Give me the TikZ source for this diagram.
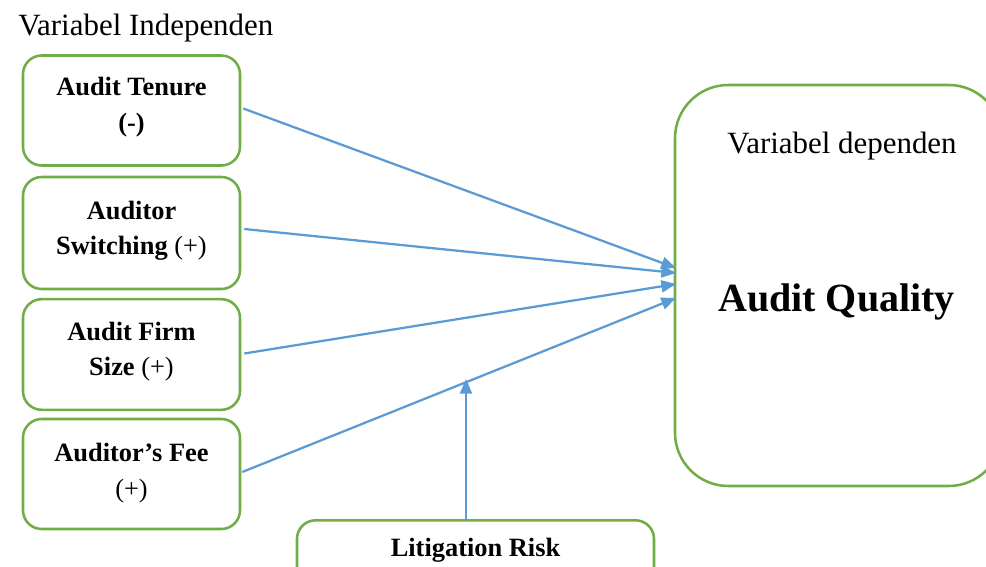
\documentclass[tikz,border=0pt]{standalone}
\usepackage{fontspec}
\setmainfont{Liberation Serif}
\usetikzlibrary{arrows.meta}
\definecolor{boxgreen}{HTML}{70AD47}
\definecolor{arrowblue}{HTML}{5B9BD5}
\tikzset{
  varbox/.style={draw=boxgreen, line width=1.9pt, rounded corners=14pt, fill=white, inner sep=0pt},
  conn/.style={draw=arrowblue, line width=1.7pt, -{Triangle[length=11pt,width=9pt]}},
  boxtext/.style={font=\fontsize{19.8}{26}\selectfont\bfseries, inner sep=0pt, anchor=base},
  plaintext/.style={font=\fontsize{23.2}{28}\selectfont, inner sep=0pt, anchor=base west},
}
\begin{document}
\begin{tikzpicture}[x=0.75pt,y=-0.75pt]
\useasboundingbox (0,0) rectangle (986,567);
% title
\node[plaintext] (title) at (18,36) {Variabel Independen};
% left boxes
\node[varbox, minimum width=162.75pt, minimum height=82.5pt] (b1) at (131.5,110.5) {};
\node[varbox, minimum width=162.75pt, minimum height=84pt] (b2) at (131.5,233) {};
\node[varbox, minimum width=162.75pt, minimum height=83pt] (b3) at (131.5,354.5) {};
\node[varbox, minimum width=162.75pt, minimum height=82.5pt] (b4) at (131.5,474) {};
% texts
\node[boxtext] (t1a) at (131.5,96) {Audit Tenure};
\node[boxtext] (t1b) at (131.5,132) {(-)};
\node[boxtext] (t2a) at (131.5,219) {Auditor};
\node[boxtext] (t2b) at (131.5,254) {Switching \mdseries(+)};
\node[boxtext] (t3a) at (131.5,340) {Audit Firm};
\node[boxtext] (t3b) at (131.5,375) {Size \mdseries(+)};
\node[boxtext] (t4a) at (131.5,461) {Auditor’s Fee};
\node[boxtext] (t4b) at (131.5,497) {\mdseries(+)};
% dependent box
\draw[draw=boxgreen, line width=1.9pt, rounded corners=40pt] (675,85) rectangle (1002,486);
\node[plaintext, anchor=base] (dep) at (842,153) {Variabel dependen};
\node[font=\fontsize{30}{36}\selectfont\bfseries, inner sep=0pt, anchor=base] (aq) at (836.5,311) {Audit Quality};
% litigation box
\node[varbox, minimum width=267.75pt, minimum height=60pt, anchor=north] (lit) at (475.5,519) {};
\node[boxtext] (litt) at (475.5,556) {Litigation Risk};
% arrow targets
\coordinate (e1) at (676,268);
\coordinate (e2) at (676,273);
\coordinate (e3) at (676,284);
\coordinate (e4) at (676,298);
\coordinate (m) at (466,379);
\draw[conn] ([shift={(2,-2)}]b1.east) -- (e1);
\draw[conn] ([shift={(3,-4)}]b2.east) -- (e2);
\draw[conn] ([shift={(3,-1)}]b3.east) -- (e3);
\draw[conn] ([shift={(1,-2)}]b4.east) -- (e4);
\draw[conn] (lit.north -| m) -- (m);
\end{tikzpicture}
\end{document}
